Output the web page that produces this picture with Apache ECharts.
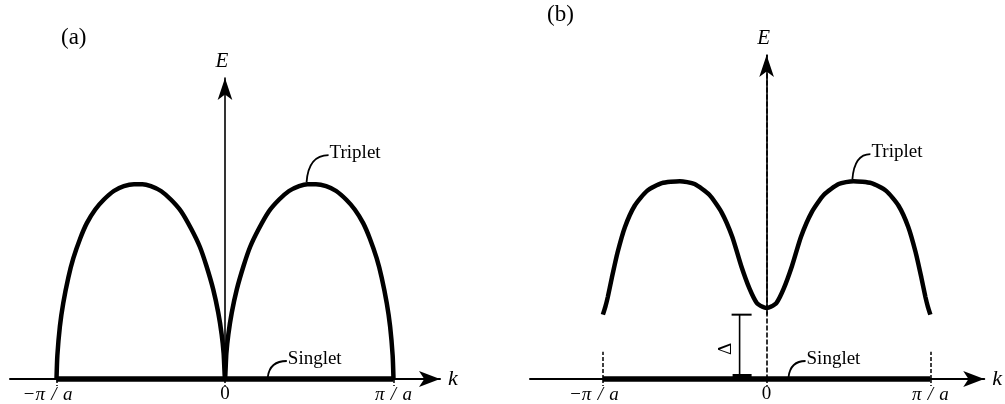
<!DOCTYPE html>
<html>
<head>
<meta charset="utf-8">
<script src="https://cdn.jsdelivr.net/npm/echarts@6/dist/echarts.min.js"></script>
<style>
  html, body { margin: 0; padding: 0; background: #fff; }
  #chart { width: 1005px; height: 404px; }
</style>
</head>
<body>
<div id="chart"></div>
<script>
// Dispersion sketches: (a) gapless triplet arches, (b) gapped triplet band, singlet at E = 0.
// Wave vector k in units of pi/a, energy E in arbitrary units.

// Panel (a): triplet branch, two arches meeting in a cusp at k = 0
const kA = [-1, -0.995, -0.98, -0.96, -0.93, -0.9, -0.86, -0.82, -0.77, -0.72, -0.66, -0.6, -0.54,
            -0.49, -0.44, -0.38, -0.32, -0.26, -0.2, -0.15, -0.11, -0.07, -0.04, -0.02, -0.008,
            0,
            0.008, 0.02, 0.04, 0.07, 0.11, 0.15, 0.2, 0.26, 0.32, 0.38, 0.44, 0.49,
            0.54, 0.6, 0.66, 0.72, 0.77, 0.82, 0.86, 0.9, 0.93, 0.96, 0.98, 0.995, 1];
const eA = [0, 0.12, 0.27, 0.39, 0.52, 0.62, 0.72, 0.8, 0.87, 0.92, 0.965, 0.99, 1.0,
            1.0, 0.99, 0.965, 0.92, 0.86, 0.77, 0.68, 0.58, 0.46, 0.34, 0.23, 0.13,
            0,
            0.13, 0.23, 0.34, 0.46, 0.58, 0.68, 0.77, 0.86, 0.92, 0.965, 0.99, 1.0,
            1.0, 0.99, 0.965, 0.92, 0.87, 0.8, 0.72, 0.62, 0.52, 0.39, 0.27, 0.12, 0];

// Panel (b): gapped triplet branch with a minimum at k = 0
const kB = [-1, -0.985, -0.97, -0.945, -0.91, -0.865, -0.805, -0.73, -0.64, -0.53, -0.44, -0.35,
            -0.275, -0.21, -0.155, -0.105, -0.06, -0.025,
            0,
            0.025, 0.06, 0.105, 0.155, 0.21, 0.275, 0.35, 0.44, 0.53, 0.64, 0.73,
            0.805, 0.865, 0.91, 0.945, 0.97, 0.985, 1];
const eB = [0.33, 0.37, 0.42, 0.52, 0.65, 0.78, 0.89, 0.965, 1.005, 1.015, 1.0, 0.945,
            0.855, 0.73, 0.58, 0.465, 0.39, 0.37,
            0.364,
            0.37, 0.39, 0.465, 0.58, 0.73, 0.855, 0.945, 1.0, 1.015, 1.005, 0.965,
            0.89, 0.78, 0.65, 0.52, 0.42, 0.37, 0.33];

// Singlet branch: flat at E = 0 across the zone
const kSinglet = [-1, 1];
const eSinglet = [0, 0];

// Zone boundary ticks and their labels
const tickValues = [-1, 0, 1];
const tickLabels = ['−π\u2004/\u2004a', '0', 'π\u2004/\u2004a'];

// Where the gap bracket sits in panel (b)
const gapK = -0.165;

// Axis extents of the two panels
const kRangeA = [-1.276, 1.276];
const kRangeB = [-1.445, 1.329];
const eMaxA = 1.545;
const eMaxB = 1.662;

const SERIF = '"Liberation Serif", "DejaVu Serif", serif';
const INK = '#000';

const zip = (xs, ys) => xs.map((x, i) => [x, ys[i]]);
const gapE = Math.min(...eB);

function xAxisFor(gridIndex, range) {
  return {
    type: 'value', gridIndex, min: range[0], max: range[1],
    splitLine: { show: false },
    axisLine: {
      show: true, onZero: false,
      symbol: ['none', 'arrow'], symbolSize: [12, 21],
      lineStyle: { color: INK, width: 2 }
    },
    axisTick: {
      show: true, customValues: tickValues, length: 7,
      lineStyle: { color: INK, width: 1.5, type: [4, 2] }
    },
    axisLabel: {
      show: true, customValues: tickValues, margin: 6,
      color: INK, fontFamily: SERIF, fontSize: 19,
      formatter: v => {
        const s = tickLabels[tickValues.indexOf(v)];
        if (s === '0') return s;
        return (v < 0 ? '{neg|' : '{it|') + s + '}';
      },
      rich: {
        it: { fontFamily: SERIF, fontSize: 19, fontStyle: 'italic', color: INK },
        neg: { fontFamily: SERIF, fontSize: 19, fontStyle: 'italic', color: INK, padding: [0, 18, 0, 0] }
      }
    },
    name: 'k', nameLocation: 'end', nameGap: 8,
    nameTextStyle: { fontFamily: SERIF, fontStyle: 'italic', fontSize: 22, color: INK,
                     verticalAlign: 'middle', padding: [12, 0, 0, 0] }
  };
}

function yAxisFor(gridIndex, max, dashed) {
  return {
    type: 'value', gridIndex, min: 0, max,
    splitLine: { show: false },
    axisTick: { show: false },
    axisLabel: { show: false },
    axisLine: {
      show: true, onZero: true,
      symbol: ['none', 'arrow'], symbolSize: [11, 22],
      lineStyle: { color: INK, width: 1.6, type: dashed ? [4, 3] : 'solid' }
    },
    name: 'E', nameLocation: 'end', nameGap: 6,
    nameTextStyle: { fontFamily: SERIF, fontStyle: 'italic', fontSize: 21, color: INK, padding: [0, 6, 0, 0] }
  };
}

// Curved leader from a point on a branch up to its name
function leaderLabel(api, anchor, dx, dy, text) {
  const p = api.coord(anchor);
  const x0 = p[0] - 1, y0 = p[1] - 2;
  const x1 = x0 + dx, y1 = y0 + dy;
  return [
    {
      type: 'bezierCurve',
      shape: { x1: x0, y1: y0, x2: x1, y2: y1, cpx1: x0 + 2, cpy1: y1 },
      style: { stroke: INK, lineWidth: 1.8, fill: null }
    },
    {
      type: 'text', x: x1 + 1, y: y1 - 2,
      style: { text, fontFamily: SERIF, fontSize: 19, fill: INK, align: 'left', verticalAlign: 'middle' }
    }
  ];
}

function peakRight(ks, es) {
  let best = null;
  ks.forEach((k, i) => { if (k > 0 && (!best || es[i] > best[1])) best = [k, es[i]]; });
  return best;
}

const line = (xi, data, width, z) => ({
  type: 'line', xAxisIndex: xi, yAxisIndex: xi, data,
  symbol: 'none', smooth: 0.2, clip: false, silent: true, z,
  lineStyle: { color: INK, width }
});

const titleStyle = { fontFamily: SERIF, fontWeight: 'normal', fontSize: 23, color: INK };

const option = {
  animation: false,
  backgroundColor: '#fff',
  title: [
    { text: '(a)', left: 61, top: 26, padding: 0, textStyle: titleStyle },
    { text: '(b)', left: 547, top: 3, padding: 0, textStyle: titleStyle }
  ],
  grid: [
    { left: 10, top: 78, width: 430, height: 306 },
    { left: 530, top: 55, width: 455, height: 329 }
  ],
  xAxis: [xAxisFor(0, kRangeA), xAxisFor(1, kRangeB)],
  yAxis: [yAxisFor(0, eMaxA, false), yAxisFor(1, eMaxB, true)],
  series: [
    line(0, zip(kA, eA), 4.5, 3),
    line(0, zip(kSinglet, eSinglet), 5.5, 4),
    {
      type: 'custom', xAxisIndex: 0, yAxisIndex: 0, clip: false, silent: true, z: 5,
      data: [[0, 0]],
      renderItem: (params, api) => ({
        type: 'group',
        children: [
          ...leaderLabel(api, peakRight(kA, eA), 22, -27, 'Triplet'),
          ...leaderLabel(api, [0.26, 0], 19, -16, 'Singlet')
        ]
      })
    },
    Object.assign(line(1, zip(kB, eB), 4.5, 3), {
      // energy axis drawn solid above the band minimum
      markLine: {
        silent: true, symbol: 'none', label: { show: false },
        lineStyle: { color: INK, width: 1.6, type: 'solid' },
        data: [[{ coord: [0, gapE] }, { coord: [0, eMaxB] }]]
      }
    }),
    Object.assign(line(1, zip(kSinglet, eSinglet), 5.5, 4), {
      markLine: {
        silent: true, symbol: 'none', label: { show: false },
        lineStyle: { color: INK, width: 1.5, type: [4, 2] },
        data: tickValues.filter(v => v !== 0).map(v => [{ coord: [v, 0] }, { coord: [v, 0.14] }])
      }
    }),
    {
      type: 'custom', xAxisIndex: 1, yAxisIndex: 1, clip: false, silent: true, z: 5,
      data: [[gapK, gapE]],
      renderItem: (params, api) => {
        const top = api.coord([api.value(0), api.value(1)]);
        const bot = api.coord([api.value(0), 0]);
        return {
          type: 'group',
          children: [
            ...leaderLabel(api, peakRight(kB, eB), 18, -25, 'Triplet'),
            ...leaderLabel(api, [0.14, 0], 17, -16, 'Singlet'),
            { type: 'line', shape: { x1: top[0], y1: top[1], x2: bot[0], y2: bot[1] },
              style: { stroke: INK, lineWidth: 1.6 } },
            { type: 'line', shape: { x1: top[0] - 8, y1: top[1], x2: top[0] + 12, y2: top[1] },
              style: { stroke: INK, lineWidth: 2 } },
            { type: 'rect', shape: { x: bot[0] - 7, y: bot[1] - 5, width: 19, height: 5 },
              style: { fill: INK } },
            { type: 'text', x: top[0] - 14, y: (top[1] + bot[1]) / 2 + 2, rotation: Math.PI / 2,
              style: { text: 'Δ', fontFamily: SERIF, fontSize: 19, fill: INK, align: 'center', verticalAlign: 'middle' } }
          ]
        };
      }
    }
  ]
};

const chart = echarts.init(document.getElementById('chart'), null, { renderer: 'canvas' });
chart.setOption(option);
</script>
</body>
</html>
